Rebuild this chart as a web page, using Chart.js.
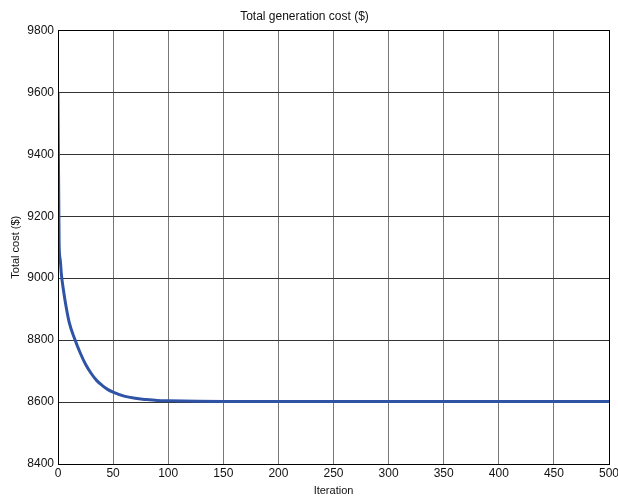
<!DOCTYPE html>
<html>
<head>
<meta charset="utf-8">
<script src="https://cdn.jsdelivr.net/npm/chart.js@4.4.0/dist/chart.umd.min.js"></script>
<style>
  html, body { margin: 0; padding: 0; background: #fff; }
  #wrap { width: 618px; height: 498px; }
</style>
</head>
<body>
<div id="wrap"><canvas id="grafico"></canvas></div>
<script>
// iteraciones y coste
const iteraciones = [0, 1, 2, 3, 5, 7, 10, 15, 20, 25, 30, 35, 40, 45, 50, 60, 70, 80, 90, 100, 150, 200, 250, 300, 350, 400, 450, 500];
const coste = [9600, 9110, 9060, 9015, 8960, 8915, 8860, 8805, 8760, 8722, 8693, 8670, 8654, 8641, 8632, 8619, 8612, 8608, 8605, 8604, 8602, 8602, 8602, 8602, 8602, 8602, 8602, 8602];
const xTicks = [0, 50, 100, 150, 200, 250, 300, 350, 400, 450, 500];
const yTicks = [8400, 8600, 8800, 9000, 9200, 9400, 9600, 9800];

const puntos = iteraciones.map((it, i) => ({ x: it, y: coste[i] }));
const fuente = "Liberation Sans, Arial, sans-serif";

const marco = {
    id: 'marco',
    afterDatasetsDraw(chart) {
        const { ctx, chartArea: a } = chart;
        ctx.save();
        ctx.strokeStyle = '#000';
        ctx.lineWidth = 1;
        ctx.strokeRect(Math.round(a.left) + 0.5, Math.round(a.top) + 0.5, Math.round(a.right - a.left), Math.round(a.bottom - a.top));
        ctx.restore();
    }
};

new Chart("grafico", {
    type: "line",
    data: {
        datasets: [{
            data: puntos,
            borderColor: "#2f54a6",
            borderWidth: 3,
            pointRadius: 0,
            cubicInterpolationMode: 'monotone',
            fill: false
        }]
    },
    options: {
        responsive: true,
        maintainAspectRatio: false,
        animation: false,
        layout: { padding: { left: 0, right: 9, top: 0, bottom: 0 } },
        plugins: {
            legend: { display: false },
            tooltip: { enabled: false },
            title: {
                display: true,
                text: "Total generation cost ($)",
                color: "#111",
                font: { family: fuente, size: 12, weight: "normal" },
                padding: { top: 9, bottom: 7 }
            }
        },
        scales: {
            x: {
                type: "linear",
                min: 0,
                max: 500,
                afterBuildTicks: (s) => { s.ticks = xTicks.map(v => ({ value: v })); },
                afterFit: (s) => { s.height = 34; s.paddingLeft = 0; s.paddingRight = 0; },
                grid: { color: "#777", lineWidth: 1, drawTicks: false },
                border: { display: false },
                ticks: {
                    color: "#111",
                    padding: 2,
                    maxRotation: 0,
                    callback: (v) => String(v),
                    font: { family: fuente, size: 12 }
                },
                title: {
                    display: true,
                    text: "Iteration",
                    color: "#111",
                    padding: { top: -2, bottom: 0 },
                    font: { family: fuente, size: 11 }
                }
            },
            y: {
                min: 8400,
                max: 9800,
                afterBuildTicks: (s) => { s.ticks = yTicks.map(v => ({ value: v })); },
                afterFit: (s) => { s.width = 58; },
                grid: { color: "#333", lineWidth: 1, drawTicks: false },
                border: { display: false },
                ticks: {
                    color: "#111",
                    padding: 4,
                    callback: (v) => String(v),
                    font: { family: fuente, size: 12 }
                },
                title: {
                    display: true,
                    text: "Total cost ($)",
                    color: "#111",
                    padding: { top: 9, bottom: 4 },
                    font: { family: fuente, size: 11 }
                }
            }
        }
    },
    plugins: [marco]
});
</script>
</body>
</html>
